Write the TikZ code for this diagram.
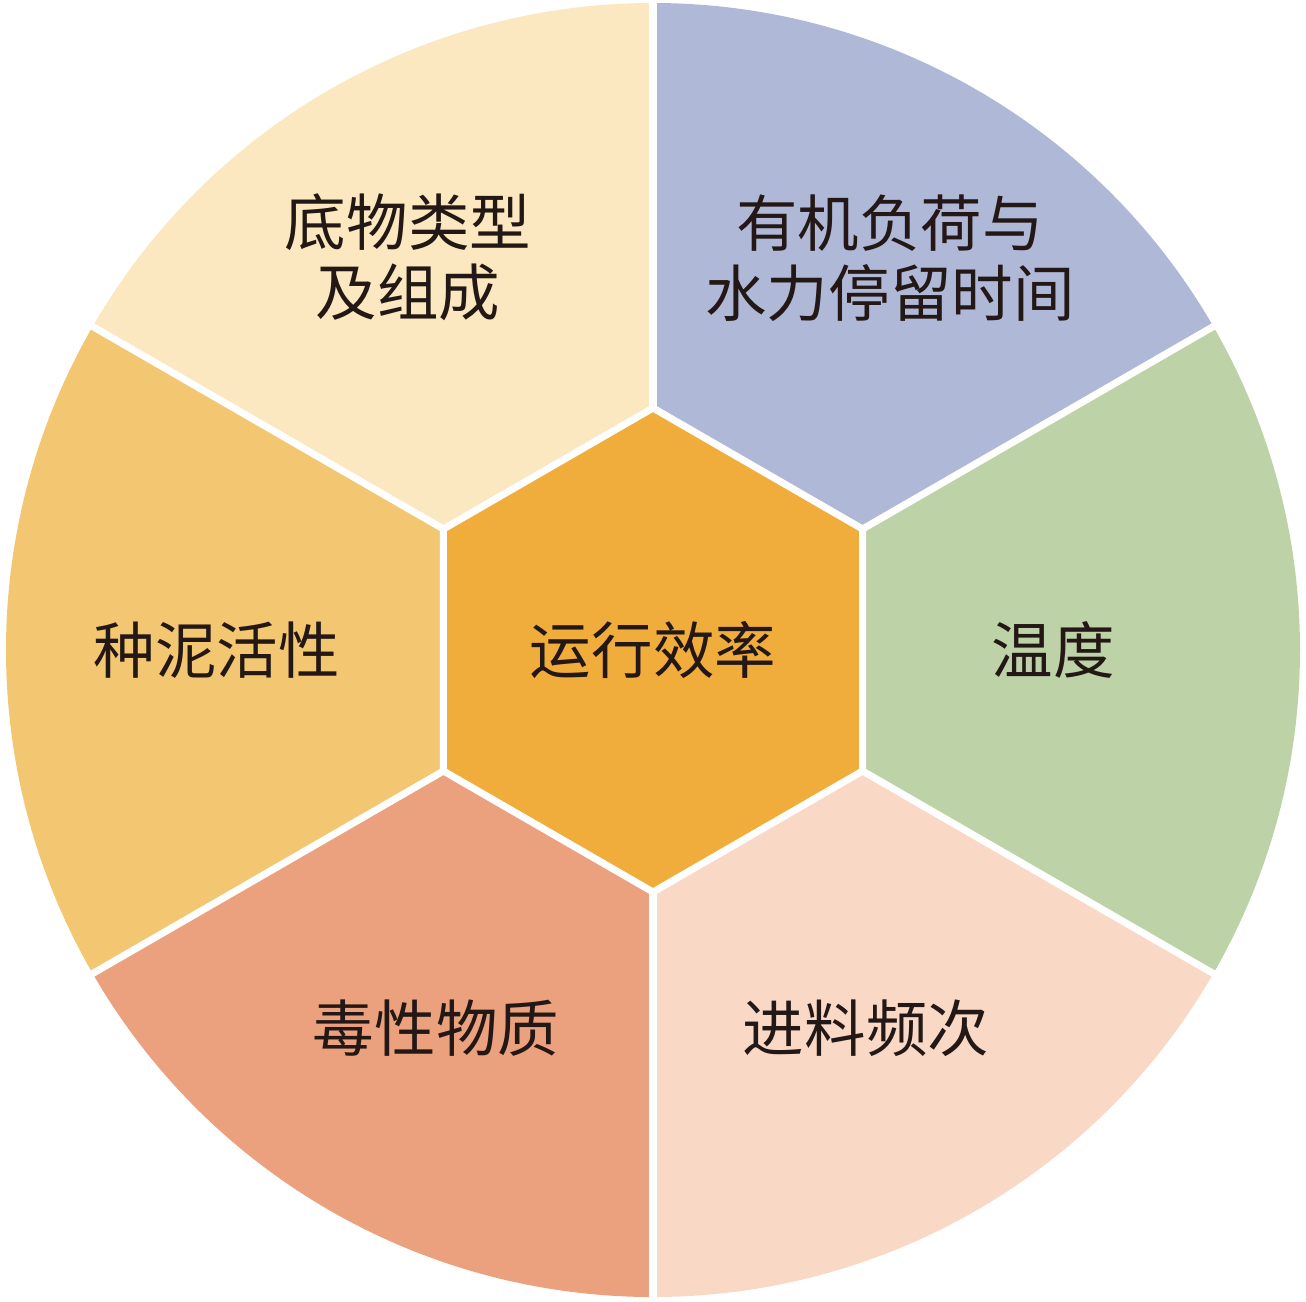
\documentclass[tikz,border=0pt]{standalone}
\usepackage{fontspec}
\newfontfamily\cjk{Noto Sans CJK SC}
\usetikzlibrary{positioning}
\definecolor{creamcol}{HTML}{FBE8C0}
\definecolor{lavcol}{HTML}{AFB8D6}
\definecolor{greencol}{HTML}{BDD3A7}
\definecolor{peachcol}{HTML}{F9D9C6}
\definecolor{salmoncol}{HTML}{EBA07E}
\definecolor{ochrecol}{HTML}{F3C672}
\definecolor{hubcol}{HTML}{F1AD3B}
\definecolor{txtcol}{HTML}{231815}

\begin{document}
\begin{tikzpicture}[every node/.style={font=\cjk\fontsize{17.5}{20}\selectfont, text=txtcol, align=center},
  gap/.style={draw=white, line width=2pt, line join=miter}]
  \useasboundingbox (-6.53,-6.51) rectangle (6.53,6.50);
  % outer ring of sectors
  \foreach \a/\c in {90/creamcol, 30/lavcol, -30/greencol, -90/peachcol, -150/salmoncol, 150/ochrecol}
    \fill[\c] (0,0) -- (\a:6.47) arc[start angle=\a, end angle=\a+60, radius=6.47] -- cycle;
  \foreach \a in {30,90,...,330}
    \draw[gap] (0,0) -- (\a:6.5);
  % centre hexagon
  \draw[gap, fill=hubcol] (30:2.42) -- (90:2.42) -- (150:2.42) -- (210:2.42) -- (270:2.42) -- (330:2.42) -- cycle;
  \node (hub) at (0,0) {运行效率};
  \node (substrate) at (-2.45,3.93) {底物类型\\及组成};
  \node (load) at (2.37,3.92) {有机负荷与\\水力停留时间};
  \node (temp) at (4.0,0) {温度};
  \node (feed) at (2.13,-3.78) {进料频次};
  \node (toxic) at (-2.17,-3.78) {毒性物质};
  \node (seed) at (-4.36,0) {种泥活性};
\end{tikzpicture}
\end{document}
